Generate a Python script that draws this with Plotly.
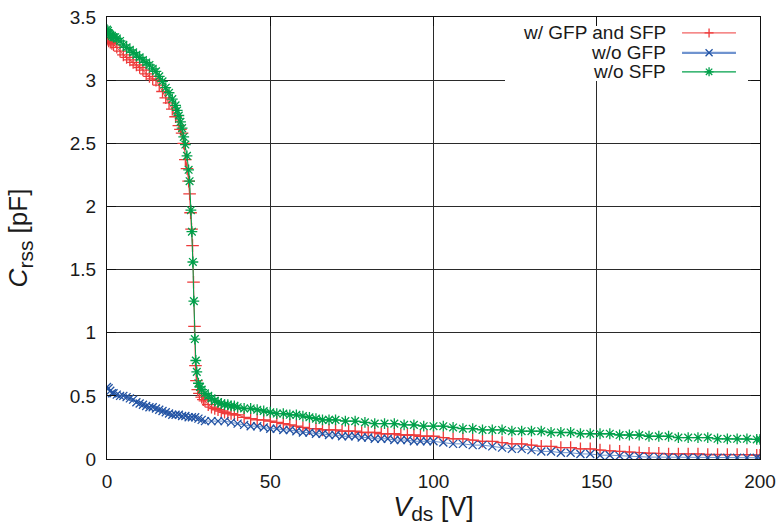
import plotly.graph_objects as go

# ---- data ----
red_x = [0, 0.5, 1, 1.5, 2, 3, 4, 5, 6, 7,
         8, 9, 10, 11, 12, 13, 14, 15, 16, 17,
         18, 19, 20, 21, 22, 22.5, 23, 23.5, 24, 24.5,
         25, 25.3, 25.6, 25.9, 26.2, 26.5, 26.8, 27.1, 27.4, 27.8,
         28.3, 29, 29.5, 30, 31, 32, 33, 34, 35, 36,
         37, 38, 39, 40, 42, 44, 46, 48, 50, 52,
         54, 56, 58, 60, 62, 64, 66, 68, 70, 72,
         74, 76, 78, 80, 82, 84, 86, 88, 90, 92,
         94, 96, 98, 100, 103, 106, 109, 112, 115, 118,
         121, 124, 127, 130, 133, 136, 139, 142, 145, 148,
         151, 154, 157, 160, 163, 166, 169, 172, 175, 178,
         181, 184, 187, 190, 193, 196, 199, 200]
red_y = [3.33, 3.31, 3.30, 3.29, 3.28, 3.26, 3.23, 3.20, 3.18, 3.16,
         3.14, 3.12, 3.10, 3.08, 3.05, 3.03, 3.01, 3.00, 2.96, 2.91,
         2.86, 2.82, 2.77, 2.71, 2.64, 2.61, 2.58, 2.50, 2.37, 2.30,
         2.20, 2.10, 1.95, 1.82, 1.69, 1.40, 1.05, 0.74, 0.62, 0.55,
         0.52, 0.49, 0.47, 0.46, 0.43, 0.41, 0.40, 0.39, 0.38, 0.37,
         0.36, 0.36, 0.35, 0.35, 0.33, 0.32, 0.31, 0.31, 0.30, 0.29,
         0.28, 0.27, 0.26, 0.25, 0.24, 0.24, 0.23, 0.23, 0.23, 0.22,
         0.22, 0.22, 0.21, 0.21, 0.21, 0.20, 0.20, 0.20, 0.19, 0.19,
         0.19, 0.18, 0.18, 0.18, 0.17, 0.16, 0.16, 0.15, 0.14, 0.14,
         0.13, 0.12, 0.12, 0.11, 0.10, 0.10, 0.09, 0.09, 0.08, 0.08,
         0.07, 0.065, 0.06, 0.055, 0.05, 0.045, 0.045, 0.04, 0.04, 0.04,
         0.04, 0.035, 0.035, 0.035, 0.035, 0.035, 0.03, 0.03]

blue_x = [0, 0.5, 1, 1.5, 2, 3, 4, 5, 6, 7,
          8, 9, 10, 11, 12, 13, 14, 15, 16, 17,
          18, 19, 20, 21, 22, 23, 24, 25, 26, 27,
          28, 29, 30, 32, 34, 36, 38, 40, 42, 44,
          46, 48, 50, 52, 54, 56, 58, 60, 62, 64,
          66, 68, 70, 72, 74, 76, 78, 80, 82, 84,
          86, 88, 90, 92, 94, 96, 98, 100, 103, 106,
          109, 112, 115, 118, 121, 124, 127, 130, 133, 136,
          139, 142, 145, 148, 151, 154, 157, 160, 163, 166,
          169, 172, 175, 178, 181, 184, 187, 190, 193, 196,
          199, 200]
blue_y = [0.57, 0.56, 0.54, 0.52, 0.52, 0.51, 0.50, 0.50, 0.49, 0.48,
          0.47, 0.45, 0.44, 0.43, 0.42, 0.41, 0.41, 0.40, 0.39, 0.38,
          0.37, 0.36, 0.35, 0.35, 0.35, 0.34, 0.34, 0.33, 0.33, 0.33,
          0.32, 0.31, 0.30, 0.30, 0.30, 0.30, 0.29, 0.28, 0.27, 0.26,
          0.26, 0.25, 0.24, 0.24, 0.23, 0.23, 0.22, 0.21, 0.21, 0.20,
          0.20, 0.19, 0.19, 0.18, 0.18, 0.18, 0.17, 0.17, 0.16, 0.16,
          0.16, 0.15, 0.15, 0.15, 0.14, 0.14, 0.14, 0.14, 0.13, 0.12,
          0.12, 0.11, 0.11, 0.10, 0.09, 0.08, 0.08, 0.07, 0.06, 0.06,
          0.05, 0.05, 0.04, 0.04, 0.03, 0.03, 0.025, 0.02, 0.02, 0.015,
          0.015, 0.015, 0.01, 0.01, 0.01, 0.01, 0.01, 0.01, 0.01, 0.01,
          0.01, 0.005]

green_x = [0, 0.3, 0.6, 1, 1.5, 2, 2.5, 3, 4, 5,
           6, 7, 8, 9, 10, 11, 12, 13, 14, 15,
           16, 17, 18, 19, 20, 21, 21.5, 22, 22.5, 23,
           23.5, 24, 24.5, 25, 25.3, 25.7, 26, 26.3, 26.6, 26.9,
           27.2, 27.5, 28, 28.5, 29, 30, 31, 32, 33, 34,
           35, 36, 37, 38, 39, 40, 42, 44, 46, 48,
           50, 52, 54, 56, 58, 60, 62, 64, 66, 68,
           70, 73, 76, 79, 82, 85, 88, 91, 94, 97,
           100, 103, 106, 109, 112, 115, 118, 121, 124, 127,
           130, 133, 136, 139, 142, 145, 148, 151, 154, 157,
           160, 163, 166, 169, 172, 175, 178, 181, 184, 187,
           190, 193, 196, 199, 200]
green_y = [3.40, 3.39, 3.37, 3.36, 3.35, 3.34, 3.34, 3.33, 3.31, 3.28,
           3.26, 3.24, 3.22, 3.20, 3.18, 3.16, 3.14, 3.12, 3.09, 3.07,
           3.03, 2.99, 2.94, 2.90, 2.85, 2.80, 2.76, 2.72, 2.67, 2.62,
           2.55, 2.49, 2.40, 2.29, 2.20, 1.97, 1.80, 1.56, 1.25, 0.95,
           0.78, 0.69, 0.60, 0.57, 0.55, 0.52, 0.50, 0.48, 0.46, 0.45,
           0.44, 0.43, 0.43, 0.42, 0.42, 0.41, 0.40, 0.40, 0.39, 0.38,
           0.37, 0.36, 0.36, 0.35, 0.35, 0.34, 0.33, 0.32, 0.31, 0.31,
           0.31, 0.30, 0.30, 0.29, 0.28, 0.28, 0.28, 0.27, 0.27, 0.26,
           0.26, 0.26, 0.25, 0.24, 0.24, 0.23, 0.23, 0.23, 0.22, 0.22,
           0.22, 0.22, 0.21, 0.21, 0.21, 0.20, 0.20, 0.20, 0.20, 0.19,
           0.19, 0.19, 0.18, 0.18, 0.18, 0.17, 0.17, 0.17, 0.17, 0.16,
           0.16, 0.16, 0.16, 0.155, 0.155]

series_names = ["w/ GFP and SFP", "w/o GFP", "w/o SFP"]
x_ticks = [0, 50, 100, 150, 200]
y_ticks = [0, 0.5, 1, 1.5, 2, 2.5, 3, 3.5]

# ---- styles ----
RED = "#ee3a3a"
BLUE = "#2152a3"
BLUE_LINE = "#6f93cf"
GREEN = "#00a04a"
FONT = "Liberation Sans, Arial, sans-serif"

styles = [
    dict(x=red_x, y=red_y, color=RED, line_color=RED, lw=1, symbol="cross-thin", size=9,
         glyph="M-4.5,0H4.5M0,-4.5V4.5", key_lw=1),
    dict(x=blue_x, y=blue_y, color=BLUE, line_color=BLUE_LINE, lw=1, symbol="x-thin", size=8,
         glyph="M-3.5,-3.5L3.5,3.5M-3.5,3.5L3.5,-3.5", key_lw=2.2),
    dict(x=green_x, y=green_y, color=GREEN, line_color=GREEN, lw=1, symbol="asterisk", size=9,
         glyph="M-4.5,0H4.5M0,-4.5V4.5M-3.2,-3.2L3.2,3.2M-3.2,3.2L3.2,-3.2", key_lw=1.3),
]

fig = go.Figure()
for name, s in zip(series_names, styles):
    fig.add_trace(go.Scatter(
        x=s["x"], y=s["y"], name=name, mode="lines+markers", showlegend=False,
        line=dict(color=s["line_color"], width=s["lw"]),
        marker=dict(symbol=s["symbol"], size=s["size"], color=s["color"],
                    line=dict(color=s["color"], width=1.3)),
    ))

# ---- custom gnuplot-style opaque key (text right-aligned, sample to the right) ----
kx0, kx1, ky0, ky1 = 0.6095, 0.9816, 0.855, 0.9796
key_y = [0.964, 0.919, 0.876]
sx0, sx1, smid, tx = 0.8806, 0.9632, 0.922, 0.859

fig.add_shape(type="rect", xref="paper", yref="paper", x0=kx0, x1=kx1, y0=ky0, y1=ky1,
              fillcolor="white", line=dict(width=0), layer="above")

for name, s, ky in zip(series_names, styles, key_y):
    fig.add_shape(type="line", xref="paper", yref="paper", x0=sx0, x1=sx1, y0=ky, y1=ky,
                  line=dict(color=s["line_color"], width=s["key_lw"]), layer="above")
    fig.add_shape(type="path", xref="paper", yref="paper", xsizemode="pixel", ysizemode="pixel",
                  xanchor=smid, yanchor=ky, path=s["glyph"],
                  line=dict(color=s["color"], width=1.3), layer="above")
    fig.add_annotation(x=tx, y=ky, xref="paper", yref="paper", text=name,
                       showarrow=False, xanchor="right", yanchor="middle",
                       font=dict(family=FONT, size=19, color="#1a1a1a"))

axis_common = dict(showline=True, linecolor="#111", linewidth=1, mirror="ticks",
                   ticks="inside", ticklen=9, tickcolor="#111", tickwidth=1,
                   showgrid=True, gridcolor="#2a2a2a", gridwidth=1, zeroline=False,
                   automargin=False,
                   tickfont=dict(family=FONT, size=19, color="#1a1a1a"))

SUB = '<sub><span style="font-size:21px">{}</span></sub>'

fig.update_layout(
    width=780, height=526, margin=dict(l=107, r=20, t=17, b=67),
    paper_bgcolor="white", plot_bgcolor="white",
    font=dict(family=FONT, color="#1a1a1a"),
    xaxis=dict(range=[0, 200], tickvals=x_ticks, ticklabelstandoff=5, **axis_common,
               title=dict(text="<i>V</i>" + SUB.format("ds") + " [V]",
                          font=dict(family=FONT, size=27), standoff=4)),
    yaxis=dict(range=[0, 3.5], tickvals=y_ticks, ticklabelstandoff=6, **axis_common,
               title=dict(text="<i>C</i>" + SUB.format("rss") + " [pF]",
                          font=dict(family=FONT, size=26), standoff=34)),
)

fig.write_html("out.html")
